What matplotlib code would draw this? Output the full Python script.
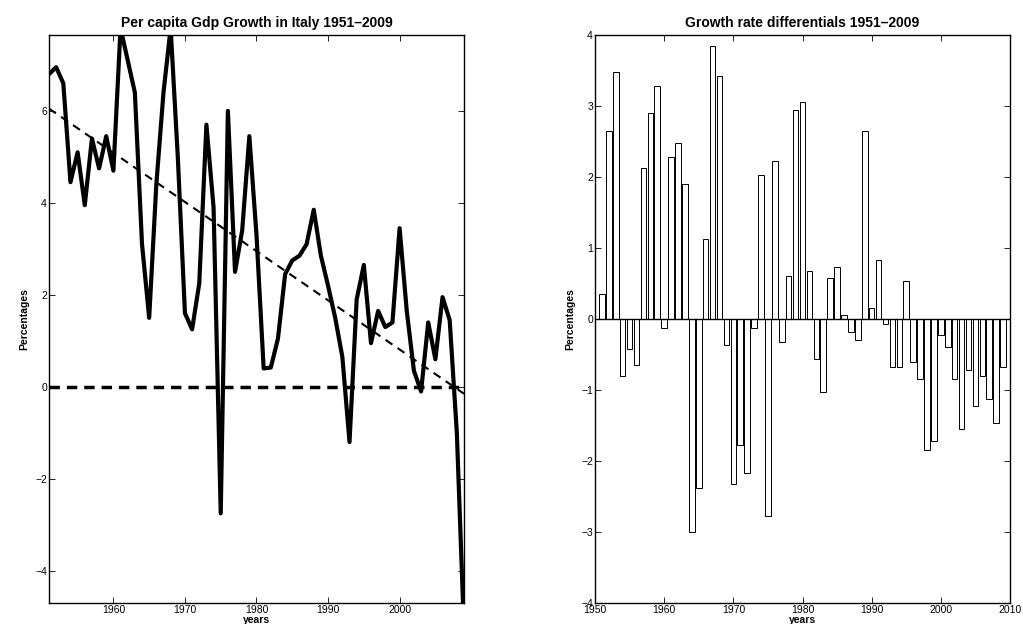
import matplotlib.pyplot as plt
import numpy as np

years = np.arange(1951, 2010)
gdp_growth = [6.8, 6.95, 6.6, 4.45, 5.1, 3.95, 5.4, 4.75, 5.45, 4.7,
              7.8, 7.1, 6.4, 3.1, 1.5, 4.4, 6.4, 7.8, 5.0, 1.6,
              1.25, 2.25, 5.7, 3.9, -2.75, 6.0, 2.5, 3.4, 5.45, 3.3,
              0.4, 0.42, 1.05, 2.45, 2.75, 2.85, 3.1, 3.85, 2.85, 2.2,
              1.5, 0.65, -1.2, 1.9, 2.65, 0.95, 1.65, 1.3, 1.4, 3.45,
              1.65, 0.35, -0.1, 1.4, 0.6, 1.95, 1.45, -1.0, -5.3]
trend_ends = [6.05, -0.15]
differentials = [0.35, 2.65, 3.48, -0.8, -0.42, -0.65, 2.13, 2.9, 3.28, -0.13,
                 2.28, 2.48, 1.9, -3.0, -2.38, 1.12, 3.85, 3.42, -0.37, -2.33,
                 -1.77, -2.17, -0.12, 2.03, -2.77, 2.22, -0.33, 0.6, 2.95, 3.05,
                 0.68, -0.57, -1.03, 0.58, 0.73, 0.05, -0.18, -0.3, 2.65, 0.15,
                 0.83, -0.07, -0.67, -0.67, 0.53, -0.6, -0.85, -1.85, -1.72, -0.22,
                 -0.4, -0.85, -1.55, -0.72, -1.23, -0.8, -1.13, -1.47, -0.68]

plt.rcParams['font.family'] = ['Liberation Sans', 'DejaVu Sans']
plt.rcParams['font.size'] = 7.5

fig = plt.figure(figsize=(10.23, 6.24), dpi=100)
ax1 = fig.add_axes([49/1023, 1-603/624, 415/1023, 568/624])
ax2 = fig.add_axes([595/1023, 1-603/624, 415/1023, 568/624])

ax1.plot(years, gdp_growth, color='black', lw=3)
ax1.plot([years[0], years[-1]], trend_ends, color='black', lw=1.5, ls=(0, (4, 3)))
ax1.axhline(0, color='black', lw=2.5, ls=(0, (3, 2)))
ax1.set_xlim(1951, 2009)
ax1.set_ylim(-4.7, 7.65)
ax1.set_yticks([-4, -2, 0, 2, 4, 6])
ax1.set_xticks([1960, 1970, 1980, 1990, 2000])
ax1.set_title('Per capita Gdp Growth in Italy 1951\u20132009', fontsize=10, fontweight='bold')
ax1.set_xlabel('years', fontweight='bold', labelpad=0)
ax1.set_ylabel('Percentages', fontweight='bold')

ax2.bar(years, differentials, width=0.8, color='white', edgecolor='black', lw=0.7)
ax2.axhline(0, color='black', lw=1)
ax2.set_xlim(1950, 2010)
ax2.set_ylim(-4, 4)
ax2.set_xticks(range(1950, 2011, 10))
ax2.set_title('Growth rate differentials 1951\u20132009', fontsize=10, fontweight='bold')
ax2.set_xlabel('years', fontweight='bold', labelpad=0)
ax2.set_ylabel('Percentages', fontweight='bold')

for ax in (ax1, ax2):
    ax.tick_params(direction='in', top=True, right=True, length=4, width=0.6, pad=1.5)
    for s in ax.spines.values():
        s.set_linewidth(1)

fig.savefig('out.png', dpi=100)
